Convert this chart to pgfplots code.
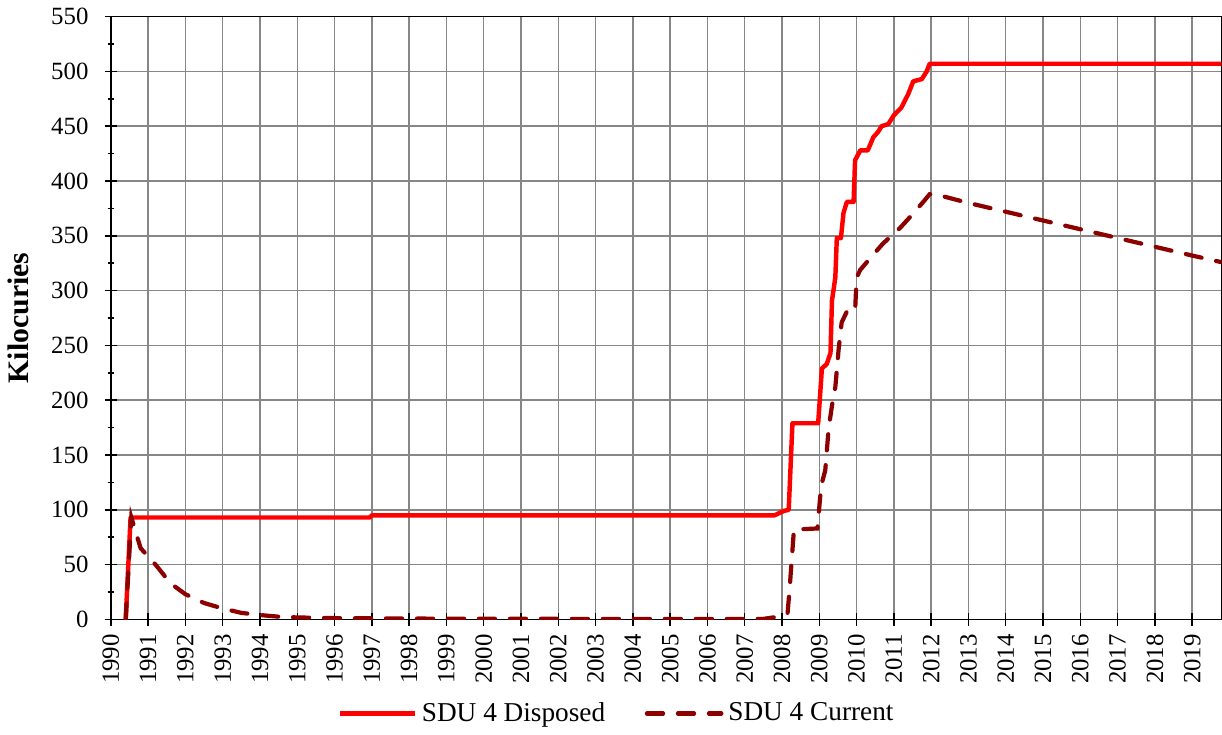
\documentclass[border=0pt]{standalone}
\usepackage{fontspec}
\setmainfont{Liberation Serif}
\usepackage{pgfplots}
\pgfplotsset{compat=1.18}
\definecolor{sdured}{RGB}{255,0,0}
\definecolor{sdudark}{RGB}{140,0,0}
\definecolor{gridgray}{RGB}{135,135,135}

\pgfplotstableread{
year   kci
1990.40  0
1990.53  93
1996.95  93
1997.00  95
2007.80  95
2008.05  99
2008.18  100
2008.28  179
2008.97  179
2009.07  229
2009.20  233
2009.30  243
2009.34  291
2009.43  312
2009.47  348
2009.58  348
2009.65  371
2009.74  381
2009.92  381
2009.96  419
2010.10  428
2010.30  428
2010.45  440
2010.58  445
2010.67  450
2010.85  452
2011.00  460
2011.20  467
2011.38  479
2011.52  491
2011.75  493
2011.88  500
2011.96  507
2019.78  507
}\disposed

\pgfplotstableread{
year   kci
1990.40  0
1990.55  93
1990.80  65
1991.20  50
1991.60  33
1992.00  23
1992.50  15
1993.00  10
1993.50  6
1994.00  4
1994.50  2.5
1995.00  1.8
1996.00  1.2
1997.00  1
1998.00  0.8
2000.00  0.6
2003.00  0.5
2007.50  0.5
2008.00  3
2008.15  6
2008.20  26
2008.32  82
2008.95  83
2009.05  122
2009.16  136
2009.25  174
2009.34  195
2009.43  212
2009.52  247
2009.60  271
2009.74  281
2009.96  281
2010.00  312
2010.10  319
2010.45  333
2010.71  343
2011.16  357
2011.43  367
2011.79  381
2011.96  388
2012.10  388
2013.00  380
2014.00  372
2015.00  364
2016.00  356
2017.00  348
2018.00  340
2019.00  332
2019.78  326
}\current

\begin{document}
\begin{tikzpicture}
\begin{axis}[
    scale only axis,
    width=448pt, height=243.2pt,
    xmin=1990, xmax=2019.78,
    ymin=0, ymax=550,
    xtick={1990,1991,...,2019},
    ytick={0,50,...,550},
    minor x tick num=1,
    minor y tick num=1,
    xtick pos=bottom, ytick pos=left,
    /pgf/number format/1000 sep={},
    /pgf/number format/assume math mode=true,
    tick label style={font=\fontsize{10}{12}\selectfont},
    xticklabel style={rotate=90, anchor=east},
    yticklabel style={xshift=-3pt},
    tick align=center,
    major tick length=5pt,
    minor tick length=2.5pt,
    tick style={black, line width=0.6pt},
    grid=major,
    major grid style={gridgray, line width=0.6pt},
    axis line style={black, line width=0.6pt},
    ylabel={Kilocuries},
    ylabel style={font=\bfseries\fontsize{12}{14}\selectfont, yshift=2pt},
    legend columns=2,
    legend style={
        at={(0.457,-0.12)}, anchor=north,
        draw=none, fill=none,
        font=\fontsize{11}{13}\selectfont,
        /tikz/every even column/.append style={column sep=14pt},
    },
    legend image code/.code={\draw[#1] (0pt,0pt) -- (30pt,0pt);},
]
\addplot[sdured, line width=1.8pt, line join=round] table[x=year, y=kci] {\disposed};
\addlegendentry{SDU 4 Disposed}
\addplot[sdudark, line width=1.7pt, line cap=round, dash pattern=on 6.5pt off 6pt] table[x=year, y=kci] {\current};
\addlegendentry{SDU 4 Current}
\end{axis}
\end{tikzpicture}
\end{document}
